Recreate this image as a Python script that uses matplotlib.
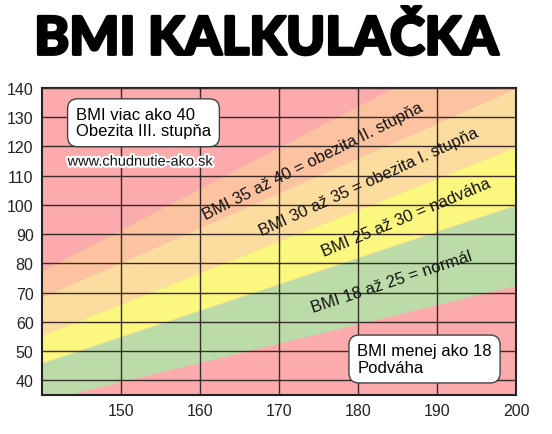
import numpy as np
import matplotlib.pyplot as plt
import matplotlib.patheffects as pe

# vyska (cm) na okrajoch grafu a hranice BMI pasiem (kg) odcitane z obrazku
heights = [140, 200]
w18 = [33, 72.5]
w25 = [46, 100]
w30 = [55.5, 120]
w35 = [68.5, 140]
w40 = [77.5, 162]

band_labels = ["BMI 35 až 40 = obezita II. stupňa",
               "BMI 30 až 35 = obezita I. stupňa",
               "BMI 25 až 30 = nadváha",
               "BMI 18 až 25 = normál"]
x_ticks = [150, 160, 170, 180, 190, 200]
y_ticks = [40, 50, 60, 70, 80, 90, 100, 110, 120, 130, 140]

pink = "#fbabab"
salmon = "#fcc3a0"
peach = "#fddc9f"
yellow = "#fbf77f"
green = "#bbdca8"

plt.rcParams["font.family"] = ["Liberation Sans", "DejaVu Sans"]

fig = plt.figure(figsize=(5.52, 4.35), dpi=100)
ax = fig.add_axes([0.076, 0.0897, 0.859, 0.7058])
ax.set_facecolor(pink)

h = np.array(heights)
ax.fill_between(h, w18, w25, color=green, lw=0)
ax.fill_between(h, w25, w30, color=yellow, lw=0)
ax.fill_between(h, w30, w35, color=peach, lw=0)
ax.fill_between(h, w35, w40, color=salmon, lw=0)

ax.set_xlim(140, 200)
ax.set_ylim(35, 140)
ax.set_xticks(x_ticks)
ax.set_yticks(y_ticks)
ax.tick_params(length=0, labelsize=11.5, labelcolor="#222222", pad=6)
ax.grid(True, color="#3a2a2a", lw=1)
ax.set_axisbelow(False)
for s in ax.spines.values():
    s.set_linewidth(1.5)
    s.set_color("#222222")

# popisky pasiem
pos = [(174.3, 115.1, 26.6), (181.4, 108.0, 24.6), (186.1, 96.0, 22.6), (184.3, 73.9, 18.2)]
for lab, (x, y, r) in zip(band_labels, pos):
    ax.text(x, y, lab, rotation=r, rotation_mode="anchor", ha="center", va="center",
            fontsize=12, color="#111111")

box = dict(boxstyle="round,pad=0.5,rounding_size=0.6", fc="white", ec="#444444", lw=1)
ax.text(144.3, 128.1, "BMI viac ako 40\nObezita III. stupňa", ha="left", va="center",
        fontsize=12, linespacing=1.1, bbox=box, zorder=5)
ax.text(179.9, 47.3, "BMI menej ako 18\nPodváha", ha="left", va="center",
        fontsize=12, linespacing=1.1, bbox=box, zorder=5)
ax.text(152.5, 114.8, "www.chudnutie-ako.sk", ha="center", va="center", fontsize=10.5,
        color="#111111", zorder=5,
        path_effects=[pe.withStroke(linewidth=3, foreground="white")])

fig.text(0.482, 0.908, "BMI KALKULAČKA", ha="center", va="center", fontsize=38,
         fontweight="black", family=["Lato", "DejaVu Sans"],
         path_effects=[pe.withStroke(linewidth=2, foreground="black")])

plt.savefig("out.png", dpi=100)
